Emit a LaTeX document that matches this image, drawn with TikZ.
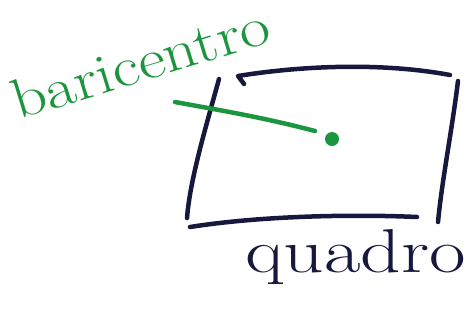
\documentclass[tikz,border=0pt]{standalone}
\usepackage{fontspec}
\usepackage{graphicx}
\definecolor{markergreen}{RGB}{28,150,62}
\definecolor{markernavy}{RGB}{22,24,62}
\begin{document}
\begin{tikzpicture}[x=1pt,y=-1pt,
  pen/.style={line width=4.5pt,line cap=round,line join=round},
  navypen/.style={pen,markernavy},
  greenpen/.style={pen,markergreen},
  hand/.style={inner sep=0pt}]

        \useasboundingbox (0,0) rectangle (470,330);

        % corners of the quadro
        \coordinate (TL) at (238,76);
        \coordinate (TR) at (450,75);
        \coordinate (BL) at (190,227);
        \coordinate (BR) at (417,217);

        \draw[navypen] (244,84) -- (TL) .. controls (300,66) and (380,62) .. (TR);
        \draw[navypen] (219,79) .. controls (205,130) and (190,180) .. (187,218);
        \draw[navypen] (458,81) .. controls (452,130) and (442,180) .. (438,222);
        \draw[navypen] (BL) .. controls (260,216) and (350,214) .. (BR);

        \fill[markergreen] (332,139) circle (7pt);
        \coordinate (dot) at (332,139);
        \coordinate (G) at (175,102);
        \draw[greenpen] (G) .. controls (230,112) and (265,118) .. (315,131);

        \node[hand,markergreen,rotate=17,anchor=base west,font=\fontsize{56}{56}\selectfont] (baricentro) at (18,120) {\scalebox{1.18}[1]{baricentro}};
        \node[hand,markernavy,anchor=base west,font=\fontsize{62}{62}\selectfont] (quadro) at (245,272) {\scalebox{1.28}[1]{quadro}};

\end{tikzpicture}
\end{document}
